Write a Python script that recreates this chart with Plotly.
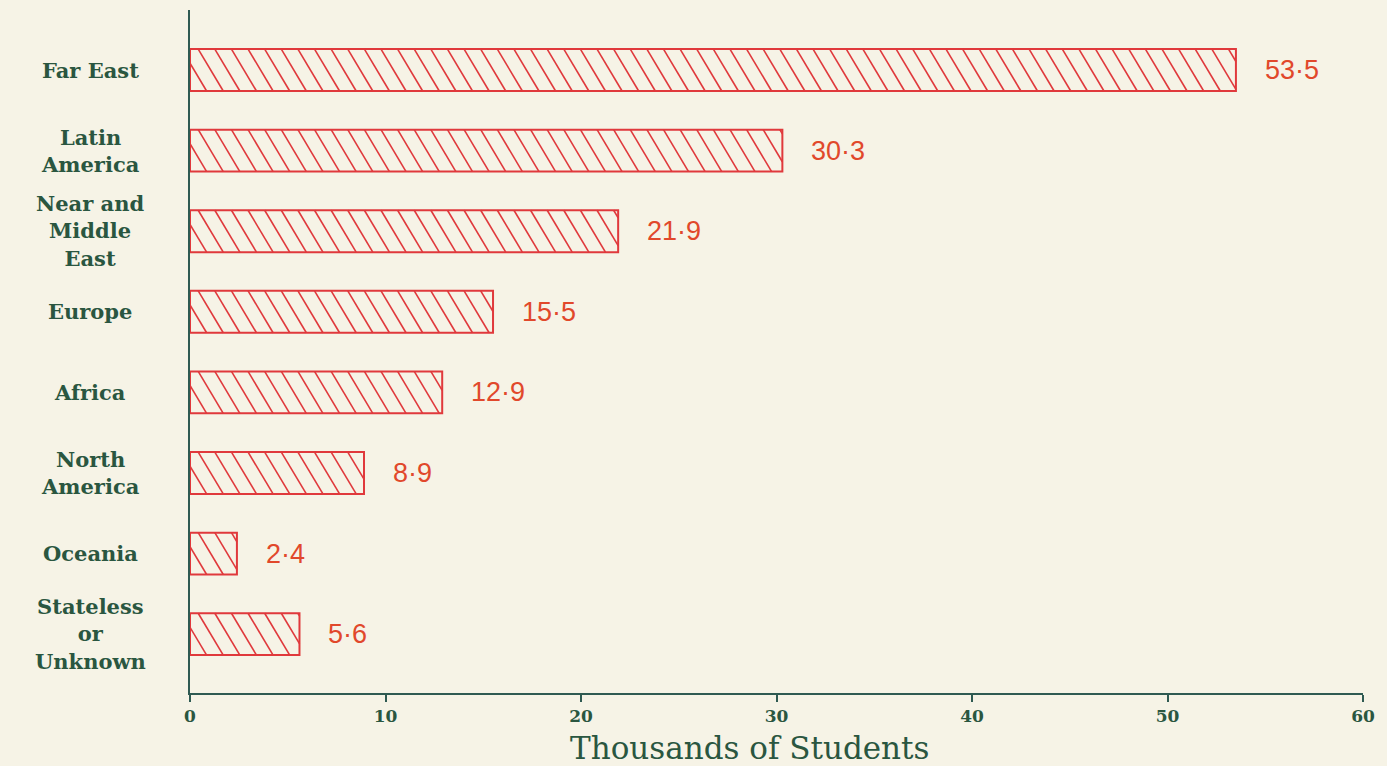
import plotly.graph_objects as go

# Overseas students by region of origin (thousands)
regions = ["Far East", "Latin<br>America", "Near and<br>Middle<br>East", "Europe",
           "Africa", "North<br>America", "Oceania", "Stateless<br>or<br>Unknown"]
students = [53.5, 30.3, 21.9, 15.5, 12.9, 8.9, 2.4, 5.6]
x_ticks = [0, 10, 20, 30, 40, 50, 60]

BG = "#f6f3e6"
GREEN = "#2a5640"
AXIS = "#2f5a52"
RED = "#e0393c"
LABEL_RED = "#e1482b"

BAR_W = 0.52          # bar thickness in category units
HATCH_STEP = 0.85     # spacing of hatch lines (thousands)
HATCH_RUN = 1.28      # horizontal run of one hatch line across the bar

ypos = list(range(len(regions)))

fig = go.Figure()

fig.add_trace(go.Bar(
    x=students, y=ypos, orientation="h", width=BAR_W,
    marker=dict(color="rgba(0,0,0,0)", line=dict(color=RED, width=2)),
    hoverinfo="x", showlegend=False,
))

# diagonal hatching clipped to each bar
hx, hy = [], []
for y, v in zip(ypos, students):
    top = y - BAR_W / 2
    c = -HATCH_RUN
    while c < v:
        t0 = max(0.0, -c / HATCH_RUN)
        t1 = min(1.0, (v - c) / HATCH_RUN)
        if t1 > t0:
            hx += [c + HATCH_RUN * t0, c + HATCH_RUN * t1, None]
            hy += [top + BAR_W * t0, top + BAR_W * t1, None]
        c += HATCH_STEP
fig.add_trace(go.Scatter(x=hx, y=hy, mode="lines",
                         line=dict(color=RED, width=1.6),
                         hoverinfo="skip", showlegend=False))

# value labels beside the bars
for y, v in zip(ypos, students):
    fig.add_annotation(x=v, y=y, xref="x", yref="y",
                       text=f"{v:.1f}".replace(".", "·"),
                       showarrow=False, xanchor="left", xshift=27,
                       font=dict(family="Liberation Sans, Arial, sans-serif",
                                 size=27, color=LABEL_RED))

# centred region labels at the left
for y, name in zip(ypos, regions):
    fig.add_annotation(x=-0.085, y=y, xref="paper", yref="y", text=name,
                       showarrow=False, xanchor="center", yanchor="middle",
                       align="center",
                       font=dict(family="DejaVu Serif, serif", size=21,
                                 color=GREEN, weight="bold"))

# axis title
fig.add_annotation(x=0.477, y=-0.081, xref="paper", yref="paper",
                   text="Thousands of Students", showarrow=False,
                   xanchor="center", yanchor="middle",
                   font=dict(family="DejaVu Serif, serif", size=31, color=GREEN))

fig.update_layout(
    width=1387, height=766,
    margin=dict(l=190, r=24, t=10, b=73),
    paper_bgcolor=BG, plot_bgcolor=BG,
    xaxis=dict(range=[0, 60], tickvals=x_ticks, showgrid=False, zeroline=False,
               showline=True, linecolor=AXIS, linewidth=2,
               ticks="outside", ticklen=7, tickwidth=2, tickcolor=AXIS,
               tickfont=dict(family="DejaVu Serif, serif", size=17,
                             color=GREEN, weight="bold")),
    yaxis=dict(range=[7.73, -0.745], showgrid=False, zeroline=False,
               showline=True, linecolor=AXIS, linewidth=2,
               showticklabels=False, ticks=""),
)

fig.write_html("out.html")
